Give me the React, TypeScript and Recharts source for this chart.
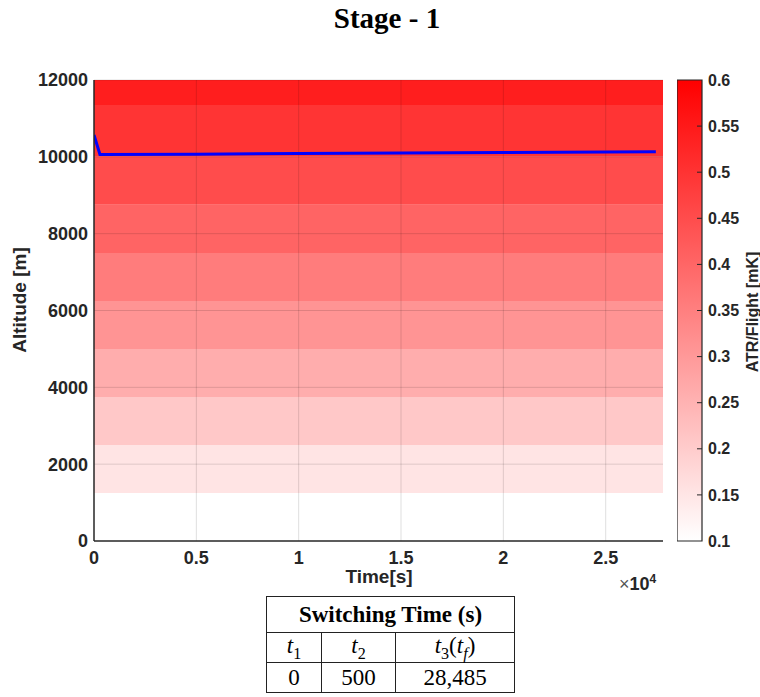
import React from 'react';
import {
  Line,
  LineChart,
  ReferenceArea,
  ReferenceLine,
  XAxis,
  YAxis,
} from 'recharts';

// altitude band edges [m] and the ATR/flight value of each band [mK]
const bandEdges = [0, 1250, 2500, 3750, 5000, 6250, 7500, 8750, 10000, 11350, 12000];
const bandAtr = [0.1, 0.153, 0.207, 0.26, 0.31, 0.357, 0.404, 0.451, 0.498, 0.541];

// optimised trajectory: time [s] vs altitude [m]
const trajTime = [0, 290, 5000, 10000, 15000, 20000, 27450];
const trajAlt = [10570, 10060, 10070, 10085, 10098, 10110, 10130];

const xTicks = [0, 5000, 10000, 15000, 20000, 25000];
const yTicks = [0, 2000, 4000, 6000, 8000, 10000, 12000];
const cbarTicks = [0.1, 0.15, 0.2, 0.25, 0.3, 0.35, 0.4, 0.45, 0.5, 0.55, 0.6];

const switchValues = ['0', '500', '28,485'];

const X_MAX = 27800;
const CMIN = 0.1;
const CMAX = 0.6;

const AXIS = '#262626';
const SANS = '"Liberation Sans", Arial, sans-serif';
const SERIF = '"Liberation Serif", serif';

function atrColor(v: number) {
  const t = Math.max(0, Math.min(1, (v - CMIN) / (CMAX - CMIN)));
  const g = Math.round(255 * (1 - t));
  return `rgb(255,${g},${g})`;
}

const trajectory = trajTime.map((t, i) => ({ t, alt: trajAlt[i] }));
const cbarRange = [
  { x: 0, c: CMIN },
  { x: 1, c: CMAX },
];

const tickStyle = { fontSize: 18, fontWeight: 700, fill: AXIS, fontFamily: SANS };

function MathT({ sub, paren }: { sub: string; paren?: string }) {
  return (
    <span>
      <i>t</i>
      <sub style={{ fontSize: '0.7em' }}>{sub}</sub>
      {paren ? (
        <>
          (<i>t</i>
          <sub style={{ fontSize: '0.7em' }}>
            <i>{paren}</i>
          </sub>
          )
        </>
      ) : null}
    </span>
  );
}

export default function App() {
  const cell: React.CSSProperties = {
    border: '1.5px solid #222',
    textAlign: 'center',
    padding: 0,
    fontFamily: SERIF,
    fontSize: 23,
    lineHeight: 1,
  };

  return (
    <div
      style={{
        position: 'absolute',
        left: 0,
        top: 0,
        width: 760,
        height: 697,
        background: '#fff',
        overflow: 'hidden',
      }}
    >
      <div
        style={{
          position: 'absolute',
          left: 287,
          top: 2,
          width: 200,
          textAlign: 'center',
          fontFamily: SERIF,
          fontWeight: 700,
          fontSize: 29,
        }}
      >
        Stage - 1
      </div>

      <div style={{ position: 'absolute', left: 0, top: 0 }}>
        <LineChart
          width={760}
          height={590}
          data={trajectory}
          margin={{ top: 80, right: 97, bottom: 19, left: 34 }}
        >
          {bandAtr.map((v, i) => (
            <ReferenceArea
              key={i}
              x1={0}
              x2={X_MAX}
              y1={bandEdges[i]}
              y2={bandEdges[i + 1]}
              fill={atrColor(v)}
              fillOpacity={1}
              stroke="none"
            />
          ))}
          {xTicks.slice(1).map((x) => (
            <ReferenceLine key={`gx${x}`} x={x} stroke="#000" strokeOpacity={0.13} />
          ))}
          {yTicks.slice(1).map((y) => (
            <ReferenceLine key={`gy${y}`} y={y} stroke="#000" strokeOpacity={0.13} />
          ))}
          <XAxis
            dataKey="t"
            type="number"
            domain={[0, X_MAX]}
            ticks={xTicks}
            tickFormatter={(v) => String(v / 1e4)}
            tick={tickStyle}
            tickLine={false}
            tickSize={0}
            tickMargin={10}
            height={30}
            stroke={AXIS}
            strokeWidth={1.5}
            allowDataOverflow
          />
          <YAxis
            type="number"
            domain={[0, 12000]}
            ticks={yTicks}
            tick={tickStyle}
            tickLine={false}
            tickSize={0}
            tickMargin={6}
            width={60}
            stroke={AXIS}
            strokeWidth={1.5}
            allowDataOverflow
          />
          <Line
            dataKey="alt"
            type="linear"
            stroke="#0000ff"
            strokeWidth={3}
            dot={false}
            isAnimationActive={false}
          />
        </LineChart>
      </div>

      <div style={{ position: 'absolute', left: 677, top: 0 }}>
        <LineChart
          width={83}
          height={590}
          data={cbarRange}
          margin={{ top: 80, right: 0, bottom: 49, left: 0 }}
        >
          <defs>
            <linearGradient id="cbar" x1="0" y1="1" x2="0" y2="0">
              <stop offset="0%" stopColor={atrColor(CMIN)} />
              <stop offset="100%" stopColor={atrColor(CMAX)} />
            </linearGradient>
          </defs>
          <XAxis dataKey="x" type="number" domain={[0, 1]} hide allowDataOverflow />
          <YAxis
            orientation="right"
            type="number"
            domain={[CMIN, CMAX]}
            ticks={cbarTicks}
            tickFormatter={(v) => String(Number(Number(v).toFixed(2)))}
            tick={{ ...tickStyle, fontSize: 16 }}
            tickLine={false}
            tickSize={0}
            tickMargin={6}
            axisLine={false}
            width={58}
            allowDataOverflow
          />
          <ReferenceArea
            x1={0}
            x2={1}
            y1={CMIN}
            y2={CMAX}
            fill="url(#cbar)"
            fillOpacity={1}
            stroke={AXIS}
            strokeWidth={1.2}
          />
          {cbarTicks.slice(1, -1).map((c) => (
            <ReferenceLine
              key={c}
              segment={[
                { x: 0.8, y: c },
                { x: 1, y: c },
              ]}
              stroke={AXIS}
            />
          ))}
          <Line dataKey="c" stroke="none" dot={false} isAnimationActive={false} />
        </LineChart>
      </div>

      <div
        style={{
          position: 'absolute',
          left: 20,
          top: 300,
          transform: 'translate(-50%, -50%) rotate(-90deg)',
          fontFamily: SANS,
          fontWeight: 700,
          fontSize: 19,
          color: AXIS,
          whiteSpace: 'nowrap',
        }}
      >
        Altitude [m]
      </div>
      <div
        style={{
          position: 'absolute',
          left: 379,
          top: 577,
          transform: 'translate(-50%, -50%)',
          fontFamily: SANS,
          fontWeight: 700,
          fontSize: 19,
          color: AXIS,
          whiteSpace: 'nowrap',
        }}
      >
        Time[s]
      </div>
      <div
        style={{
          position: 'absolute',
          left: 619,
          top: 572,
          fontFamily: SANS,
          fontSize: 18,
          color: AXIS,
          whiteSpace: 'nowrap',
        }}
      >
        <span style={{ color: '#555' }}>×</span>
        <b>10</b>
        <sup style={{ fontSize: 12, fontWeight: 700 }}>4</sup>
      </div>
      <div
        style={{
          position: 'absolute',
          left: 753,
          top: 312,
          transform: 'translate(-50%, -50%) rotate(-90deg)',
          fontFamily: SANS,
          fontWeight: 700,
          fontSize: 16,
          color: AXIS,
          whiteSpace: 'nowrap',
        }}
      >
        ATR/Flight [mK]
      </div>

      <table
        style={{
          position: 'absolute',
          left: 266,
          top: 596,
          borderCollapse: 'collapse',
          background: '#fff',
        }}
      >
        <tbody>
          <tr style={{ height: 36 }}>
            <td colSpan={3} style={{ ...cell, fontWeight: 700 }}>
              Switching Time (s)
            </td>
          </tr>
          <tr style={{ height: 30 }}>
            <td style={{ ...cell, width: 54 }}>
              <MathT sub="1" />
            </td>
            <td style={{ ...cell, width: 73 }}>
              <MathT sub="2" />
            </td>
            <td style={{ ...cell, width: 118 }}>
              <MathT sub="3" paren="f" />
            </td>
          </tr>
          <tr style={{ height: 30 }}>
            {switchValues.map((v) => (
              <td key={v} style={cell}>
                {v}
              </td>
            ))}
          </tr>
        </tbody>
      </table>
    </div>
  );
}
